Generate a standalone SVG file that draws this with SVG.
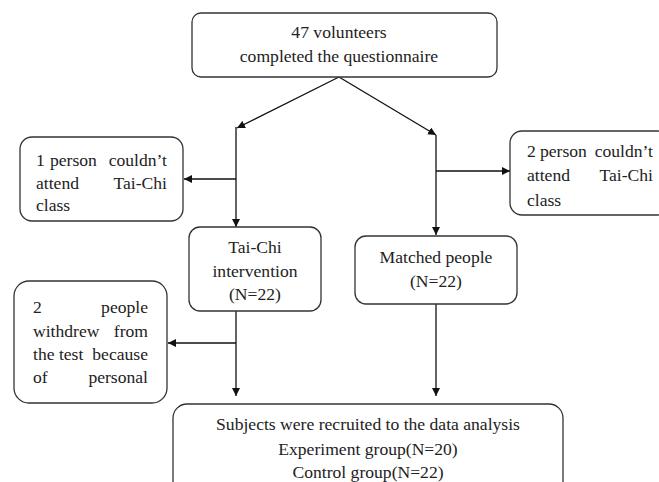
<svg xmlns="http://www.w3.org/2000/svg" width="659" height="482" viewBox="0 0 659 482">
<style>
.box{fill:#fff;stroke:#333;stroke-width:1.3}
.t{font-family:"Liberation Serif","Times New Roman",serif;font-size:17.6px;fill:#222}
.c{text-anchor:middle}
.e{text-anchor:end}
.ln{fill:none;stroke:#111;stroke-width:1.3}
</style>
<defs>
<marker id="ah" viewBox="0 0 10 10" refX="10" refY="5" markerWidth="8" markerHeight="8" markerUnits="userSpaceOnUse" orient="auto">
<path d="M0,0 L10,5 L0,10 Z" fill="#111"/>
</marker>
</defs>
<rect width="659" height="482" fill="#fff"/>
<g id="connectors">
<line class="ln" x1="339" y1="77" x2="237" y2="128" marker-end="url(#ah)"/>
<line class="ln" x1="339" y1="77" x2="436" y2="135" marker-end="url(#ah)"/>
<line class="ln" x1="236" y1="127" x2="236" y2="227" marker-end="url(#ah)"/>
<line class="ln" x1="236" y1="179" x2="184" y2="179" marker-end="url(#ah)"/>
<line class="ln" x1="436" y1="135" x2="436" y2="235" marker-end="url(#ah)"/>
<line class="ln" x1="436" y1="171" x2="510" y2="171" marker-end="url(#ah)"/>
<line class="ln" x1="236" y1="311" x2="236" y2="396" marker-end="url(#ah)"/>
<line class="ln" x1="236" y1="343" x2="168" y2="343" marker-end="url(#ah)"/>
<line class="ln" x1="436" y1="304" x2="436" y2="396" marker-end="url(#ah)"/>
</g>
<g id="top">
<rect class="box" x="192" y="13" width="305" height="64" rx="9"/>
<text class="t c" x="339" y="38">47 volunteers</text>
<text class="t c" x="339" y="62">completed the questionnaire</text>
</g>
<g id="left1">
<rect class="box" x="20" y="137" width="163" height="84" rx="12"/>
<text class="t" x="36" y="166">1</text>
<text class="t" x="50" y="166">person</text>
<text class="t e" x="167" y="166">couldn’t</text>
<text class="t" x="36" y="189">attend</text>
<text class="t e" x="167" y="189">Tai-Chi</text>
<text class="t" x="36" y="211">class</text>
</g>
<g id="right1">
<rect class="box" x="510" y="131" width="160" height="84" rx="12"/>
<text class="t" x="527" y="157">2</text>
<text class="t" x="540" y="157">person</text>
<text class="t e" x="653" y="157">couldn’t</text>
<text class="t" x="527" y="181">attend</text>
<text class="t e" x="653" y="181">Tai-Chi</text>
<text class="t" x="527" y="206">class</text>
</g>
<g id="taichi">
<rect class="box" x="189" y="227" width="132" height="84" rx="11"/>
<text class="t c" x="255" y="253">Tai-Chi</text>
<text class="t c" x="255" y="277">intervention</text>
<text class="t c" x="255" y="300">(N=22)</text>
</g>
<g id="matched">
<rect class="box" x="355" y="236" width="162" height="68" rx="11"/>
<text class="t c" x="436" y="263">Matched people</text>
<text class="t c" x="436" y="287">(N=22)</text>
</g>
<g id="left2">
<rect class="box" x="14" y="281" width="153" height="122" rx="15"/>
<text class="t" x="33" y="313">2</text>
<text class="t e" x="148" y="313">people</text>
<text class="t" x="33" y="337">withdrew</text>
<text class="t e" x="148" y="337">from</text>
<text class="t" x="33" y="360">the test</text>
<text class="t e" x="148" y="360">because</text>
<text class="t" x="33" y="383">of</text>
<text class="t e" x="148" y="383">personal</text>
</g>
<g id="bottom">
<rect class="box" x="173" y="404" width="390" height="100" rx="14"/>
<text class="t c" x="368" y="430">Subjects were recruited to the data analysis</text>
<text class="t c" x="368" y="455">Experiment group(N=20)</text>
<text class="t c" x="368" y="478">Control group(N=22)</text>
</g>
</svg>
